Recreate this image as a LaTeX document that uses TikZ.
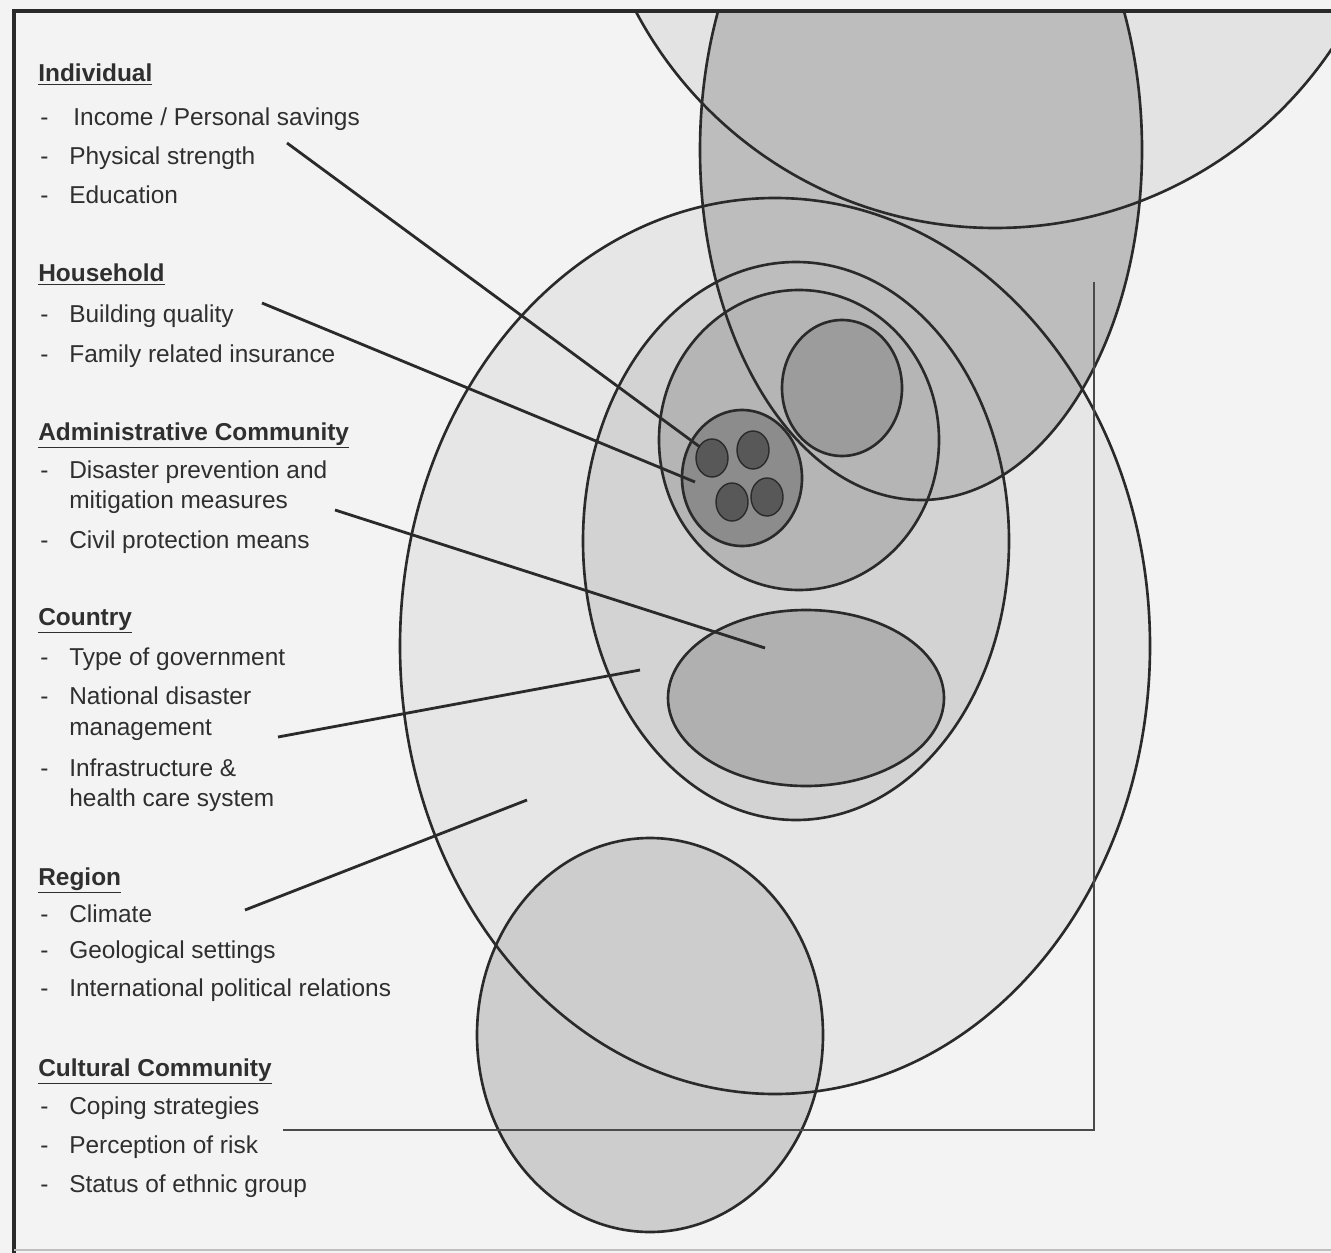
\documentclass[tikz,border=0pt]{standalone}
\usepackage{fontspec}
\setmainfont{Liberation Sans}
\usepackage{xcolor}
\usepackage{tikz}
\usetikzlibrary{calc}
\definecolor{paper}{HTML}{F3F3F3}
\definecolor{ink}{HTML}{2F2F2F}
\definecolor{rimc}{HTML}{2A2A2A}
\definecolor{regionc}{HTML}{E6E6E6}
\definecolor{topc}{HTML}{E3E3E3}
\definecolor{culturec}{HTML}{CDCDCD}
\definecolor{countryc}{HTML}{D3D3D3}
\definecolor{tallc}{HTML}{BDBDBD}
\definecolor{adminc}{HTML}{B5B5B5}
\definecolor{lowerc}{HTML}{B0B0B0}
\definecolor{innerc}{HTML}{9C9C9C}
\definecolor{housec}{HTML}{8C8C8C}
\definecolor{dotc}{HTML}{585858}
\definecolor{bracketc}{HTML}{4A4A4A}
\newcommand{\legendfont}{\fontsize{13.9}{16}\selectfont}
\tikzset{head/.style={anchor=base west, inner sep=0pt, font=\legendfont\bfseries, text=ink}}
\tikzset{item/.style={anchor=base west, inner sep=0pt, font=\legendfont, text=ink}}
\tikzset{rim/.style={draw=rimc, line width=1.5pt}}
\tikzset{leader/.style={draw=rimc, line width=1.6pt}}
\newcommand{\dashmark}{\makebox[0.58cm][l]{-}}

\begin{document}
\begin{tikzpicture}[x=0.02cm, y=-0.02cm]
  \useasboundingbox (0,0) rectangle (1331,1253);
  \clip (0,0) rectangle (1331,1253);
  \fill[paper] (0,0) rectangle (1331,1253);

  % levels
  \begin{scope}
    \clip (14,11) rectangle (1331,1253);
    \fill[regionc] (775,646) ellipse [x radius=375, y radius=448];
    \fill[topc] (995,-178) circle [radius=406];
    \fill[culturec] (650,1035) ellipse [x radius=173, y radius=197];
    \fill[countryc] (796,541) ellipse [x radius=213, y radius=279];
    \fill[tallc] (921,150) ellipse [x radius=221, y radius=350];
    \fill[adminc] (799,440) ellipse [x radius=140, y radius=150];
    \fill[lowerc] (806,698) ellipse [x radius=138, y radius=88];
    \fill[innerc] (842,388) ellipse [x radius=60, y radius=68];
    \fill[housec] (742,478) ellipse [x radius=60, y radius=68];
    \foreach \p in {(712,458), (753,450), (732,502), (767,497)}
      \fill[dotc] \p ellipse [x radius=16, y radius=19];

    \draw[rim] (775,646) ellipse [x radius=375, y radius=448];
    \draw[rim] (995,-178) circle [radius=406];
    \draw[rim] (650,1035) ellipse [x radius=173, y radius=197];
    \draw[rim] (796,541) ellipse [x radius=213, y radius=279];
    \draw[rim] (921,150) ellipse [x radius=221, y radius=350];
    \draw[rim] (799,440) ellipse [x radius=140, y radius=150];
    \draw[rim] (806,698) ellipse [x radius=138, y radius=88];
    \draw[rim] (842,388) ellipse [x radius=60, y radius=68];
    \draw[rim] (742,478) ellipse [x radius=60, y radius=68];
    \foreach \p in {(712,458), (753,450), (732,502), (767,497)}
      \draw[rim, line width=0.8pt] \p ellipse [x radius=16, y radius=19];
  \end{scope}

  % frame
  \draw[rimc, line width=2pt] (14,1253) -- (14,11) -- (1331,11);
  \draw[black!25, line width=1pt] (14,1250) -- (1331,1250);

  % legend
  \node[head] (hInd) at (38,82) {\underline{Individual}};
  \node[item] (iInc) at (40,126) {\dashmark\,Income / Personal savings};
  \node[item] (iPhy) at (40,165) {\dashmark Physical strength};
  \node[item] (iEdu) at (40,204) {\dashmark Education};

  \node[head] (hHou) at (38,282) {\underline{Household}};
  \node[item] (iBui) at (40,322) {\dashmark Building quality};
  \node[item] (iFam) at (40,362) {\dashmark Family related insurance};

  \node[head] (hAdm) at (38,440) {\underline{Administrative Community}};
  \node[item] (iDis) at (40,478) {\dashmark Disaster prevention and};
  \node[item] (iMit) at (69,508) {mitigation measures};
  \node[item] (iCiv) at (40,548) {\dashmark Civil protection means};

  \node[head] (hCou) at (38,625) {\underline{Country}};
  \node[item] (iTyp) at (40,665) {\dashmark Type of government};
  \node[item] (iNat) at (40,704) {\dashmark National disaster};
  \node[item] (iMan) at (69,735) {management};
  \node[item] (iInf) at (40,776) {\dashmark Infrastructure \&};
  \node[item] (iHea) at (69,806) {health care system};

  \node[head] (hReg) at (38,885) {\underline{Region}};
  \node[item] (iCli) at (40,922) {\dashmark Climate};
  \node[item] (iGeo) at (40,958) {\dashmark Geological settings};
  \node[item] (iInt) at (40,996) {\dashmark International political relations};

  \node[head] (hCul) at (38,1076) {\underline{Cultural Community}};
  \node[item] (iCop) at (40,1114) {\dashmark Coping strategies};
  \node[item] (iPer) at (40,1153) {\dashmark Perception of risk};
  \node[item] (iSta) at (40,1192) {\dashmark Status of ethnic group};

  % leaders
  \coordinate (indS) at (287,143);  \coordinate (indE) at (700,447);
  \coordinate (houS) at (262,303);  \coordinate (houE) at (695,482);
  \coordinate (admS) at (335,510);  \coordinate (admE) at (765,648);
  \coordinate (couS) at (278,737);  \coordinate (couE) at (640,670);
  \coordinate (regS) at (245,910);  \coordinate (regE) at (527,800);
  \coordinate (culS) at (283,1130); \coordinate (culE) at (1094,282);
  \draw[leader] (indS) -- (indE);
  \draw[leader] (houS) -- (houE);
  \draw[leader] (admS) -- (admE);
  \draw[leader] (couS) -- (couE);
  \draw[leader] (regS) -- (regE);
  \draw[leader, draw=bracketc] (culS) -| (culE);
\end{tikzpicture}
\end{document}
